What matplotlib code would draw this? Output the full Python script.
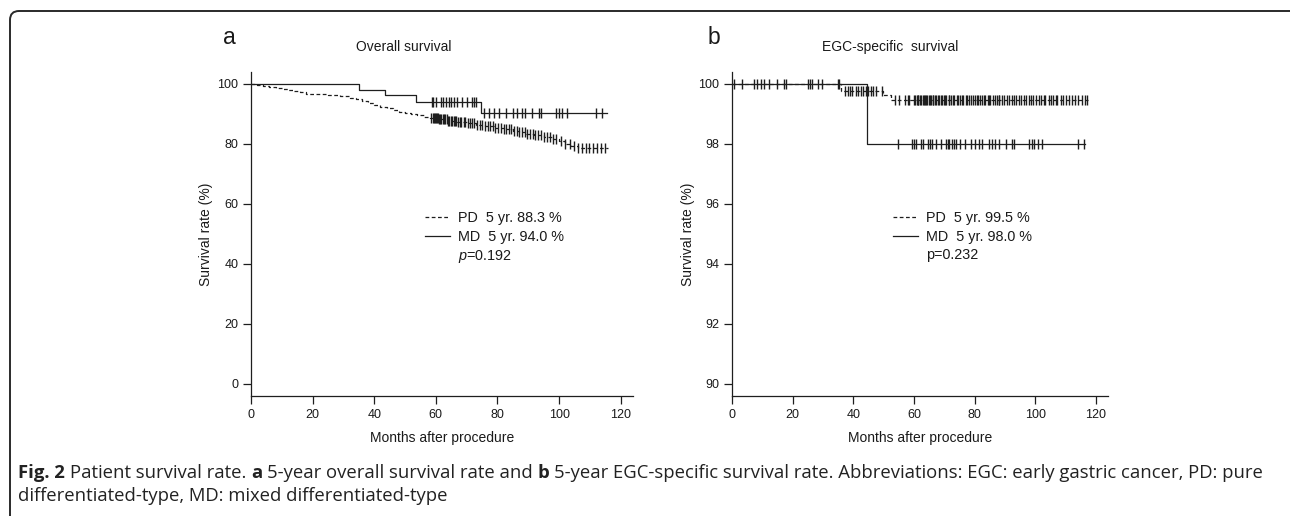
import matplotlib
matplotlib.use("Agg")
import matplotlib.pyplot as plt
import numpy as np
from matplotlib.lines import Line2D
from matplotlib.patches import FancyBboxPatch

plt.rcParams['font.family'] = ['Liberation Sans', 'DejaVu Sans']
plt.rcParams['mathtext.fontset'] = 'custom'
plt.rcParams['mathtext.rm'] = 'Liberation Sans'
plt.rcParams['mathtext.it'] = 'Liberation Sans:italic'

# ---- panel a: overall survival ----
os_pd_t = [0, 2, 4, 6, 8, 10, 12, 14, 16, 18, 21, 25, 29, 32, 34, 36, 38, 40, 42, 44,
           46, 48, 50, 52, 54, 56, 58, 61, 64, 67, 70, 73, 76, 79, 82, 85, 87, 89, 92, 95,
           98, 100, 102, 104, 106]
os_pd_s = [100, 99.7, 99.4, 99.1, 98.8, 98.4, 98.0, 97.6, 97.2, 96.8, 96.6, 96.3, 95.9, 95.5,
           95.0, 94.5, 93.8, 93.1, 92.5, 91.9, 91.3, 90.8, 90.4, 90.0, 89.6, 89.1, 88.7, 88.3,
           87.7, 87.3, 86.9, 86.5, 86.0, 85.5, 85.0, 84.4, 83.9, 83.5, 83.0, 82.4, 81.7, 81.0,
           80.1, 79.3, 78.7]
os_pd_end = 116
os_pd_cens = [58.5, 59, 59.3, 59.6, 60, 60.3, 60.6, 61, 61.4, 61.8, 62.2, 62.6, 63, 63.5, 64,
              64.4, 64.8, 65.3, 65.8, 66.2, 66.7, 67.2, 67.8, 68.3, 69, 69.6, 70.3, 71, 71.8,
              72.5, 73.3, 74.2, 75, 76, 76.8, 77.5, 78.4, 79.3, 80.2, 81, 82, 82.8, 83.6, 84.5,
              85.3, 86.2, 87, 88, 88.8, 89.7, 90.5, 91.4, 92.3, 93.2, 94, 95, 96, 97, 98, 99,
              100.5, 102, 103.5, 105, 106.2, 107.4, 108.6, 109.8, 111, 112.2, 113.5, 115]

os_md_t = [0, 35, 43.5, 53.5, 74.6]
os_md_s = [100, 98.1, 96.2, 93.9, 90.2]
os_md_end = 115.5
os_md_cens = [58.7, 59.2, 60, 61.7, 62.3, 63.2, 64.3, 64.8, 65.9, 67, 68.6, 70.2, 71.9, 72.4,
              72.9, 75.6, 77.3, 78.9, 80.5, 82.7, 84.9, 86.5, 88.1, 89, 91.3, 93.5, 94, 98.9,
              100, 101, 102.7, 111.9, 114]

# ---- panel b: EGC-specific survival ----
cs_pd_t = [0, 36, 49.8, 52.5]
cs_pd_s = [100, 99.77, 99.62, 99.47]
cs_pd_end = 117.5
cs_pd_cens = [0.5, 3.2, 7.3, 8.4, 9.5, 10.6, 12.2, 14.9, 17.2, 17.7, 24.9, 25.6, 26.5, 28.2,
              29.6, 34.8, 35.3,
              37.3, 38.1, 38.8, 39.7, 40.8, 41.7, 42.5, 43.2, 44.1, 45, 45.7, 46.5, 47.4, 49.6,
              53.6, 55.1, 57.2, 57.9, 58.4, 60.1, 60.4, 60.9, 61.2, 61.5, 62.1, 62.3, 62.9,
              63.2, 63.8, 64.1, 64.4, 64.9, 65.3, 65.6, 66.2, 66.4, 67.1, 67.3, 67.8, 68.4,
              68.9, 69.1, 69.8, 70.3, 70.6, 71.4, 71.7, 72.1, 72.9, 73.3, 74.2, 74.6, 75.1,
              75.9, 76.3, 77.2, 77.6, 78.1, 78.9, 79.5, 80.1, 80.8, 81.1, 81.9, 82.4, 83.2,
              83.5, 84.3, 84.9, 85.2, 86.1, 86.7, 87.3, 87.9, 88.2, 89.1, 89.6, 90.7, 91.2,
              92.4, 92.9, 93.8, 94.5, 95.3, 96.4, 96.9, 97.8, 98.6, 99.3, 100.2, 101.1, 101.9,
              102.8, 103.3, 104.4, 105.2, 105.9, 106.8, 107.3, 108.4, 109.1, 110.2, 111.3,
              112.1, 113.2, 114.1, 115.3, 116.4, 117.2]

cs_md_t = [0, 44.5]
cs_md_s = [100, 98.0]
cs_md_end = 116.5
cs_md_cens = [54.6, 59.5, 60.1, 60.6, 62.3, 63.0, 64.5, 65.2, 65.9, 67.2, 68.9, 70.5, 71.1,
              71.6, 72.7, 73.3, 74.0, 75.1, 76.9, 78.8, 80.2, 81.3, 82.6, 84.6, 85.9, 86.8,
              88.1, 90.3, 92.3, 93.1, 98.0, 98.9, 99.7, 100.8, 102.2, 114.0, 116.2]

x_ticks = [0, 20, 40, 60, 80, 100, 120]
a_yticks = [0, 20, 40, 60, 80, 100]
b_yticks = [90, 92, 94, 96, 98, 100]

LC = '#1e1e1e'
TC = '#1a1a1a'
DASH = (0, (3, 2))

W, H = 1290, 516
fig = plt.figure(figsize=(W / 100, H / 100), dpi=100)


def km(ax, t, s, end, cens, ls):
    tt = np.append(t, end)
    ss = np.append(s, s[-1])
    ax.step(tt, ss, where='post', color=LC, lw=0.9, ls=ls)
    idx = np.searchsorted(np.asarray(t), cens, side='right') - 1
    ax.plot(cens, np.asarray(s)[idx], ls='none', marker='|', ms=7, mew=1.0, color=LC)


def style(ax, ylim, yticks):
    ax.set_xlim(0, 124)
    ax.set_ylim(*ylim)
    ax.set_xticks(x_ticks)
    ax.set_yticks(yticks)
    for sp in ['top', 'right']:
        ax.spines[sp].set_visible(False)
    for sp in ['left', 'bottom']:
        ax.spines[sp].set_linewidth(0.9)
        ax.spines[sp].set_color(LC)
    ax.tick_params(direction='out', length=6, width=0.9, color=LC, labelsize=9,
                   labelcolor=TC, pad=3)
    ax.set_ylabel('Survival rate (%)', fontsize=10, color=TC)
    ax.set_xlabel('Months after procedure', fontsize=10, color=TC)


def pix(x0, x1):
    # axes placed by pixel box (y from 72 to 396 from the top)
    return [x0 / W, (H - 396) / H, (x1 - x0) / W, (396 - 72) / H]


ax1 = fig.add_axes(pix(251, 633))
km(ax1, os_pd_t, os_pd_s, os_pd_end, os_pd_cens, DASH)
km(ax1, os_md_t, os_md_s, os_md_end, os_md_cens, '-')
style(ax1, (-4, 104), a_yticks)
ax1.yaxis.set_label_coords(-0.099, 0.5)
ax1.xaxis.set_label_coords(0.5, -0.108)
ax1.set_title('Overall survival', fontsize=10, color=TC, x=0.4, y=1.04)

ax2 = fig.add_axes(pix(732, 1108))
km(ax2, cs_pd_t, cs_pd_s, cs_pd_end, cs_pd_cens, DASH)
km(ax2, cs_md_t, cs_md_s, cs_md_end, cs_md_cens, '-')
style(ax2, (89.6, 100.4), b_yticks)
ax2.yaxis.set_label_coords(-0.098, 0.5)
ax2.xaxis.set_label_coords(0.5, -0.108)
ax2.set_title('EGC-specific  survival', fontsize=10, color=TC, x=0.42, y=1.04)


def legend(ax, labels, x):
    hs = [Line2D([], [], color=LC, lw=0.9, ls=DASH),
          Line2D([], [], color=LC, lw=0.9),
          Line2D([], [], color='none')]
    ax.legend(hs, labels, loc='upper left', bbox_to_anchor=(x, 0.57), frameon=False,
              fontsize=10.4, handlelength=1.75, handletextpad=0.55, labelspacing=0.3,
              borderpad=0, borderaxespad=0, labelcolor=TC)


legend(ax1, ['PD  5 yr. 88.3 %', 'MD  5 yr. 94.0 %', r'$p$=0.192'], 0.455)
legend(ax2, ['PD  5 yr. 99.5 %', 'MD  5 yr. 98.0 %', 'p=0.232'], 0.428)

fig.text(229 / W, 1 - 37 / H, 'a', fontsize=16.5, ha='center', va='center', color=TC)
fig.text(714 / W, 1 - 37 / H, 'b', fontsize=16.5, ha='center', va='center', color=TC)

# rounded frame around figure (runs off the right and bottom edges)
frame = FancyBboxPatch((10, -60), 1300, H - 11 + 60, boxstyle='round,pad=0,rounding_size=9',
                       transform=None, fill=False, ec='#2a2a2a', lw=1.4)
fig.add_artist(frame)

# caption
cap = fig.add_axes([0, 0, 1, 1])
cap.axis('off')
CF = ['Open Sans', 'DejaVu Sans']
CS = 13.3
line1 = [('Fig. 2', 'bold'), ('Patient survival rate.', 'normal'), ('a', 'bold'),
         ('5-year overall survival rate and', 'normal'), ('b', 'bold'),
         ('5-year EGC-specific survival rate. Abbreviations: EGC: early gastric cancer, PD: pure',
          'normal')]
gap = CS * 0.26
prev = cap.text(18 / W, 1 - 482 / H, line1[0][0], fontsize=CS, fontweight=line1[0][1],
                family=CF, ha='left', va='bottom', color='#222222')
for s, w in line1[1:]:
    prev = cap.annotate(s, xy=(1, 0), xycoords=prev, xytext=(gap, 0),
                        textcoords='offset points', fontsize=CS, fontweight=w, family=CF,
                        ha='left', va='bottom', color='#222222')
cap.text(18 / W, 1 - 505 / H, 'differentiated-type, MD: mixed differentiated-type',
         fontsize=CS, family=CF, ha='left', va='bottom', color='#222222')

fig.savefig('out.png', dpi=100)
